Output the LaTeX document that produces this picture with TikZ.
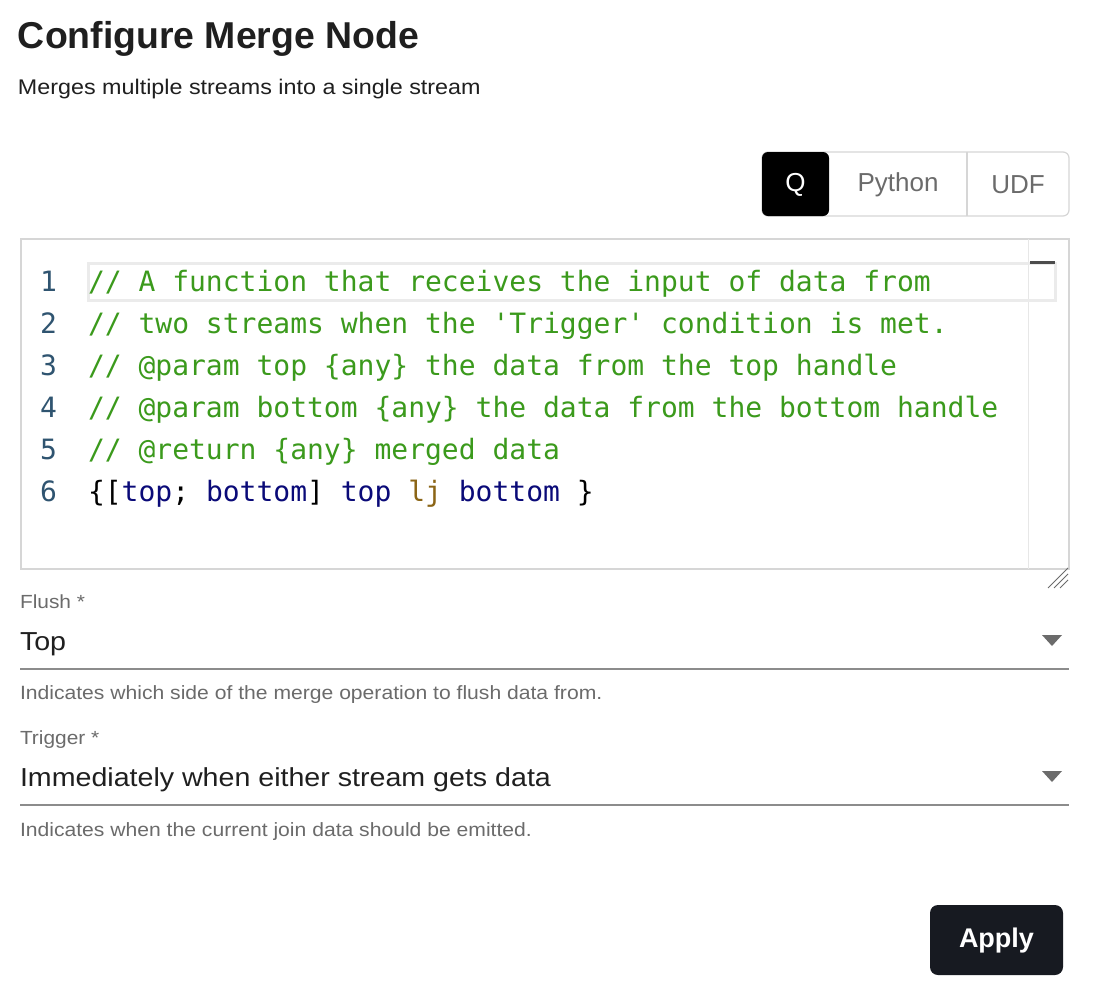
\documentclass[tikz,border=0pt]{standalone}
\usepackage{fontspec}
\setmainfont{Liberation Sans}
\newfontfamily\widefont[FakeStretch=1.1]{Liberation Sans}
\newfontfamily\codefont{DejaVu Sans Mono}
\usetikzlibrary{positioning,calc}
\definecolor{ink}{HTML}{1F1F1F}
\definecolor{muted}{HTML}{6B6B6B}
\definecolor{frame}{HTML}{D6D6D6}
\definecolor{cmt}{HTML}{3B9A1C}
\definecolor{kw}{HTML}{0A0A78}
\definecolor{fn}{HTML}{8B6516}
\definecolor{lnum}{HTML}{2F5470}
\definecolor{btn}{HTML}{171A21}
\tikzstyle{txt}  =[anchor=base west, inner sep=0pt, outer sep=0pt]
\tikzstyle{code} =[txt, font=\codefont\fontsize{14}{16}\selectfont]
\tikzstyle{lno}  =[code, text=lnum, anchor=base east]
\tikzstyle{label}=[txt, text=muted, font=\widefont\fontsize{9.5}{11}\selectfont]
\tikzstyle{value}=[txt, text=ink, font=\widefont\fontsize{13}{15}\selectfont]
\tikzstyle{hint} =[txt, text=muted, font=\widefont\fontsize{9.6}{11}\selectfont]
\tikzstyle{seg}  =[txt, anchor=center, font=\fontsize{13}{15}\selectfont]
\begin{document}
\begin{tikzpicture}[x=0.5pt, y=-0.5pt]
  \useasboundingbox[fill=white] (0,0) rectangle (1094,996);

  % heading
  \node[txt, text=ink, font=\bfseries\fontsize{18.7}{22}\selectfont] (title) at (18,48) {Configure Merge Node};
  \node[txt, text=ink, font=\widefont\fontsize{10.6}{12}\selectfont] (sub) at (18,94) {Merges multiple streams into a single stream};

  % language toggle
  \draw[frame, line width=0.6pt, rounded corners=3pt] (762,152) rectangle (1069,216);
  \fill[black, rounded corners=3pt] (762,152) rectangle (829,216);
  \draw[frame, line width=0.6pt] (967,152) -- (967,216);
  \node[seg, text=white] (q) at (795.5,185) {Q};
  \node[seg, text=muted] (py) at (898,185) {Python};
  \node[seg, text=muted] (udf) at (1018,185) {UDF};

  % editor
  \draw[frame, line width=0.8pt] (21,239) rectangle (1069,569);
  \draw[frame!60, line width=0.5pt] (1028,239) -- (1028,569);
  \draw[frame!50, line width=1.5pt] (88,263) rectangle (1055,300);
  \draw[black!70, line width=1.5pt] (1030,262) -- (1055,262);
  \foreach \i/\t in {1/{// A function that receives the input of data from},
                     2/{// two streams when the 'Trigger' condition is met.},
                     3/{// @param top \{any\} the data from the top handle},
                     4/{// @param bottom \{any\} the data from the bottom handle},
                     5/{// @return \{any\} merged data}}{
    \node[lno] (n\i) at (57,{291+42*(\i-1)}) {\i};
    \node[code, text=cmt] (c\i) at (88,{291+42*(\i-1)}) {\t};
  }
  \node[lno] (n6) at (57,501) {6};
  \node[code] (c6) at (88,501) {\{[\textcolor{kw}{top}; \textcolor{kw}{bottom}] \textcolor{kw}{top} \textcolor{fn}{lj} \textcolor{kw}{bottom} \}};
  \foreach \d in {8,14,20}
    \draw[muted, line width=0.5pt] (1068-\d,588) -- (1068,588-\d);

  % flush select
  \node[label] (flushlbl) at (20,608) {Flush *};
  \node[value] (flush) at (20,650) {Top};
  \fill[muted] (1042,635) -- (1062,635) -- (1052,646) -- cycle;
  \draw[black!45, line width=0.6pt] (20,669) -- (1069,669);
  \node[hint] (flushhint) at (20,699) {Indicates which side of the merge operation to flush data from.};

  % trigger select
  \node[label] (triglbl) at (20,744) {Trigger *};
  \node[value] (trig) at (20,786) {Immediately when either stream gets data};
  \fill[muted] (1042,771) -- (1062,771) -- (1052,782) -- cycle;
  \draw[black!45, line width=0.6pt] (20,805) -- (1069,805);
  \node[hint] (trighint) at (20,836) {Indicates when the current join data should be emitted.};

  % apply
  \fill[btn, rounded corners=4pt] (930,905) rectangle (1063,975);
  \node[seg, text=white, font=\bfseries\fontsize{13.5}{16}\selectfont] (apply) at (996.5,941) {Apply};
\end{tikzpicture}
\end{document}
